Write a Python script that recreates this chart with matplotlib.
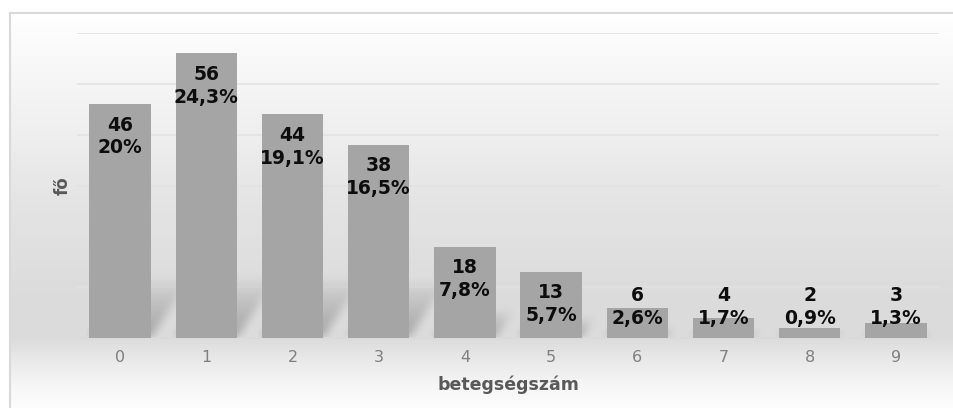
import matplotlib
matplotlib.use("Agg")
import matplotlib.pyplot as plt
import numpy as np
from matplotlib.lines import Line2D

# betegségszám szerinti megoszlás
categories = ["0", "1", "2", "3", "4", "5", "6", "7", "8", "9"]
counts = [46, 56, 44, 38, 18, 13, 6, 4, 2, 3]
percents = [20, 24.3, 19.1, 16.5, 7.8, 5.7, 2.6, 1.7, 0.9, 1.3]

W, H = 954, 408
fig = plt.figure(figsize=(W / 100, H / 100), dpi=100)

# background: vertical gray gradient inside the chart frame, pixel exact
rows = np.arange(H)
stops_px = [0, 13, 40, 135, 200, 300, 338, 360, 385, 408]
stops_v = [1.0, 1.0, 0.985, 0.935, 0.895, 0.86, 0.862, 0.915, 0.965, 0.99]
col = np.interp(rows, stops_px, stops_v)
bgimg = np.repeat(col[:, None], W, axis=1)
bgimg[:13, :] = 1.0
bgimg[:, :10] = 1.0
fig.figimage(np.dstack([bgimg] * 3), xo=0, yo=0, origin="upper", zorder=-10)
fig.add_artist(Line2D([10 / W, 1], [1 - 13 / H, 1 - 13 / H],
                      transform=fig.transFigure, color="#d9d9d9", lw=1.5))
fig.add_artist(Line2D([10 / W, 10 / W], [0, 1 - 13 / H],
                      transform=fig.transFigure, color="#d9d9d9", lw=1.5))

ax = fig.add_axes([77 / W, 1 - 338 / H, (939 - 77) / W, (338 - 33) / H])
ax.patch.set_alpha(0)
x = np.arange(len(categories))
bw = 0.71
ymax = 60

# soft perspective shadows: sheared, fading upward, blurred
nx, ny = 862, 305
gx = np.linspace(-0.5, len(categories) - 0.5, nx)
gy = np.linspace(0, ymax, ny)
XX, YY = np.meshgrid(gx, gy)
slope = 26.0
alpha = np.zeros_like(XX)
for xi, h in zip(x, counts):
    hs = min(0.3 * h, 12)
    xs = XX - YY / slope
    inside = (xs >= xi - bw / 2) & (xs <= xi + bw / 2) & (YY <= hs)
    a = np.where(inside, 0.5 * np.clip(1 - YY / hs, 0, 1) ** 0.8, 0)
    alpha = np.maximum(alpha, a)
k = np.ones(13) / 13
alpha = np.apply_along_axis(lambda r: np.convolve(r, k, mode="same"), 1, alpha)
alpha = np.apply_along_axis(lambda c: np.convolve(c, k, mode="same"), 0, alpha)
shadow = np.zeros((ny, nx, 4))
shadow[..., :3] = 0.45
shadow[..., 3] = alpha
ax.imshow(shadow, origin="lower", aspect="auto", interpolation="bilinear",
          extent=[-0.5, len(categories) - 0.5, 0, ymax], zorder=1)

ax.bar(x, counts, width=bw, color="#a5a5a5", zorder=3)

for xi, c, p in zip(x, counts, percents):
    y1 = max(c - 4.1, 8.3)
    ax.text(xi, y1, str(c), ha="center", va="center", fontsize=13.5,
            fontweight="bold", color="#0d0d0d", zorder=5)
    ax.text(xi, y1 - 4.5, f"{p:g}".replace(".", ",") + "%", ha="center",
            va="center", fontsize=13.5, fontweight="bold", color="#0d0d0d",
            zorder=5)

ax.set_xlim(-0.5, len(categories) - 0.5)
ax.set_ylim(0, ymax)
ax.set_yticks(np.arange(0, ymax + 1, 10))
ax.yaxis.grid(True, color="#e2e2e2", lw=1.2, zorder=0)
ax.set_axisbelow(True)
ax.tick_params(axis="y", length=0, labelleft=False)
ax.tick_params(axis="x", length=0, pad=9, labelsize=11.5, labelcolor="#7f7f7f")
ax.set_xticks(x)
ax.set_xticklabels(categories)
for s in ["top", "right", "left"]:
    ax.spines[s].set_visible(False)
ax.spines["bottom"].set_color("#d9d9d9")
ax.spines["bottom"].set_linewidth(1.2)

ax.set_xlabel("betegségszám", fontsize=12.5, fontweight="bold",
              color="#595959", labelpad=7)
ax.set_ylabel("fő", fontsize=12, fontweight="bold", color="#595959",
              labelpad=4)

fig.savefig("out.png", dpi=100)
